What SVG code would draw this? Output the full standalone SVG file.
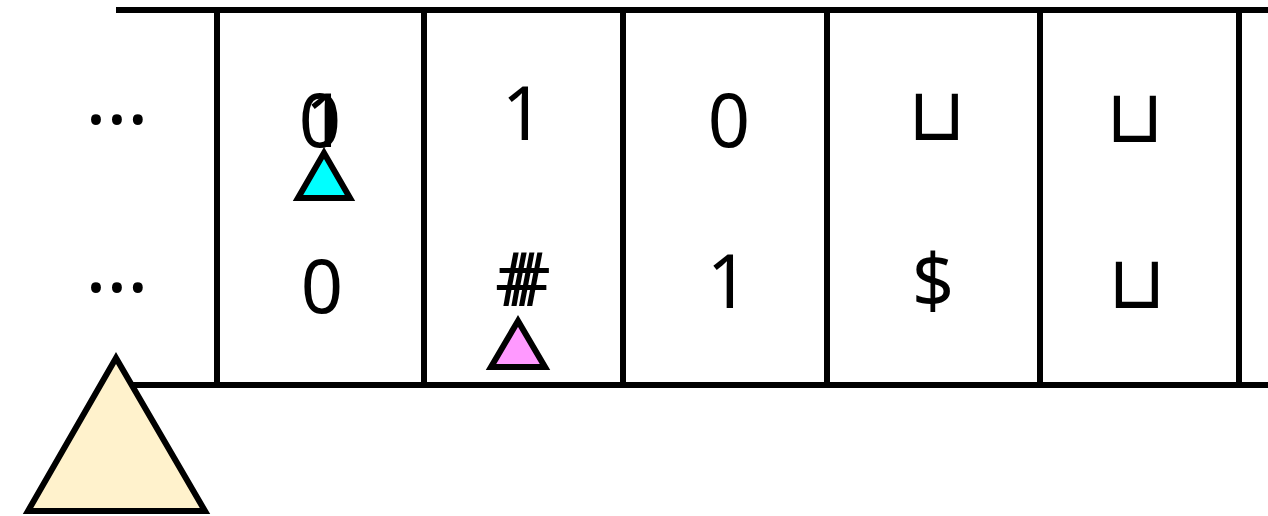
<svg xmlns="http://www.w3.org/2000/svg" width="1268" height="516" viewBox="0 0 1268 516">
<style>
.ln{stroke:#000;stroke-width:6;fill:none}
.t{font-family:"Noto Sans","Open Sans",sans-serif;font-size:74px;text-anchor:middle;fill:#000}
.d{font-family:"Noto Sans","Open Sans",sans-serif;font-size:80px;text-anchor:middle;fill:#000}
.hd{stroke:#000;stroke-width:6;stroke-linejoin:miter}
</style>
<rect width="1268" height="516" fill="#fff"/>
<g id="tape">
<line class="ln" x1="116" y1="10" x2="1268" y2="10"/>
<line class="ln" x1="116" y1="385" x2="1268" y2="385"/>
<line class="ln" x1="217" y1="10" x2="217" y2="385"/>
<line class="ln" x1="424" y1="10" x2="424" y2="385"/>
<line class="ln" x1="623" y1="10" x2="623" y2="385"/>
<line class="ln" x1="827" y1="10" x2="827" y2="385"/>
<line class="ln" x1="1040" y1="10" x2="1040" y2="385"/>
<line class="ln" x1="1239" y1="10" x2="1239" y2="385"/>
</g>
<g id="track1">
<text class="d" x="117" y="124">…</text>
<text class="t" x="320" y="147">0</text>
<text class="t" x="326" y="147">1</text>
<text class="t" x="523" y="140">1</text>
<text class="t" x="729" y="147">0</text>
<text class="t" x="937" y="140">⊔</text>
<text class="t" x="1135" y="142">⊔</text>
</g>
<g id="track2">
<text class="d" x="117" y="292">…</text>
<text class="t" x="322" y="313">0</text>
<text class="t" x="519" y="306">#</text>
<text class="t" x="527" y="306">#</text>
<text class="t" x="728" y="308">1</text>
<text class="t" x="933" y="308">$</text>
<text class="t" x="1137" y="308">⊔</text>
</g>
<g id="head1"><polygon class="hd" points="324,153 298,198 350,198" fill="#00ffff"/></g>
<g id="head2"><polygon class="hd" points="518,321 491,367 545,367" fill="#ff99ff"/></g>
<g id="control"><polygon class="hd" points="116,358 28,511 205,511" fill="#fff2cc"/></g>
</svg>
